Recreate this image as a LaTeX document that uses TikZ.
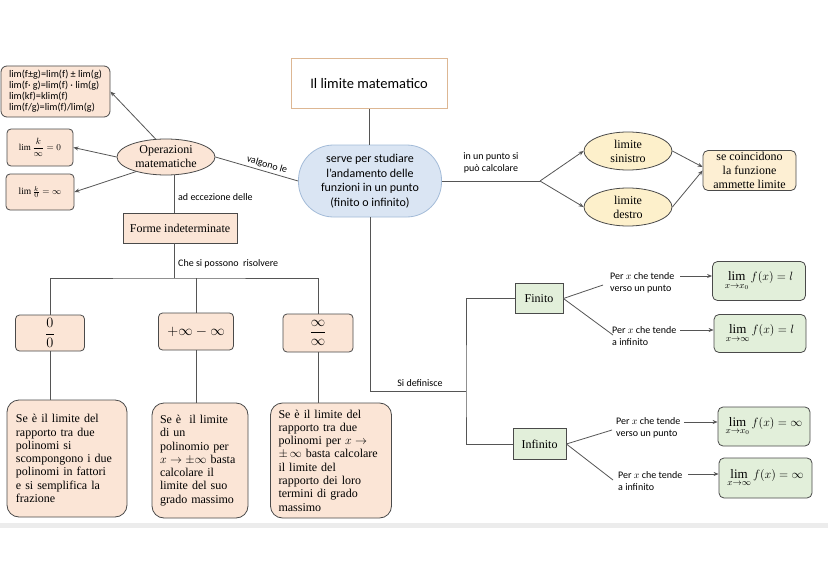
\documentclass[tikz,border=0pt]{standalone}
\usepackage{amsmath}
\usepackage{fontspec}
\setmainfont{Liberation Serif}
\newfontfamily\carl{Carlito}
\usetikzlibrary{shapes.geometric,arrows.meta,calc}
\definecolor{peach}{HTML}{FBE5D6}
\definecolor{bord}{HTML}{4A4A4A}
\definecolor{linec}{HTML}{555555}
\definecolor{tanb}{HTML}{DDB793}
\definecolor{bluef}{HTML}{DAE5F3}
\definecolor{blueb}{HTML}{A3BBD8}
\definecolor{yell}{HTML}{FDF0CB}
\definecolor{yellb}{HTML}{FDEFD3}
\definecolor{greenf}{HTML}{E2EFDA}
\begin{document}
\begin{tikzpicture}[x=1pt,y=-1pt,
  conn/.style={draw=linec, line width=0.8pt},
  arr/.style={conn, -{Stealth[length=5pt,width=4pt]}},
  pbox/.style={draw=bord, fill=peach, line width=0.8pt, rounded corners=4pt, inner sep=0pt, align=center},
  sqbox/.style={draw=bord, line width=0.8pt, inner sep=0pt, align=center, font=\fontsize{12}{14}\selectfont},
  gbox/.style={draw=bord, fill=greenf, line width=0.8pt, rounded corners=5pt, inner sep=0pt, font=\fontsize{13}{15}\selectfont},
  txbox/.style={draw=bord, fill=peach, line width=0.8pt, rounded corners=12pt, align=left, inner xsep=8pt, inner ysep=0pt, font=\fontsize{12}{13.3}\selectfont},
  yell/.style={ellipse, draw=bord, fill=yell, line width=0.8pt, inner sep=0pt, align=center, font=\fontsize{12}{14}\selectfont},
  lab/.style={font=\carl\fontsize{10}{12}\selectfont, align=left, inner sep=0pt}
]
\useasboundingbox[fill=white] (0,0) rectangle (828,586);
\fill[gray!15] (0,523) rectangle (828,528);

% title and central node
\node[draw=tanb, fill=white, line width=1pt, minimum width=156pt, minimum height=50pt, font=\carl\fontsize{14.5}{17}\selectfont] (title) at (369,84) {Il limite matematico};
\node[draw=blueb, fill=bluef, line width=0.8pt, rounded corners=35pt, minimum width=143pt, minimum height=72pt, inner sep=0pt, align=center, font=\carl\fontsize{12}{14.5}\selectfont] (blue) at (370,181) {serve per studiare\\l’andamento delle\\funzioni in un punto\\(finito o infinito)};
\draw[conn] (title.south) -- (title.south |- blue.north);

% left: operations
\node[ellipse, draw=bord, fill=peach, line width=0.8pt, minimum width=98pt, minimum height=36pt, inner sep=0pt, align=center, font=\fontsize{12}{14}\selectfont] (op) at (166,157) {Operazioni\\matematiche};
\node[pbox, rounded corners=6pt, minimum width=109pt, minimum height=51pt, align=left, font=\carl\fontsize{10.2}{11}\selectfont] (fbox) at (55.5,91.5) {lim(f±g)=lim(f) ± lim(g)\\lim(f· g)=lim(f) · lim(g)\\lim(kf)=klim(f)\\lim(f/g)=lim(f)/lim(g)};
\node[pbox, minimum width=66pt, minimum height=37pt, font=\fontsize{9}{10}\selectfont] (k1) at (40,147.5) {$\lim\dfrac{k}{\infty}=0$};
\node[pbox, minimum width=68pt, minimum height=36pt, font=\fontsize{9.5}{10}\selectfont] (k2) at (40,192) {$\lim\frac{k}{0}=\infty$};
\draw[arr] (op.120) -- (fbox.east);
\draw[arr] (op.west) -- (k1.east);
\draw[arr] (op.206) -- (k2.east);
\draw[conn] (op.east) -- node[lab, sloped, above=2pt, pos=0.6] (valg) {valgono le} (blue.west);

\node[sqbox, fill=peach, minimum width=114pt, minimum height=30pt] (forme) at (180,228) {Forme indeterminate};
\draw[conn] ([xshift=8pt]op.south) -- ([xshift=8pt]op.south |- forme.north);
\node[lab, anchor=west] (ecc) at (178,197) {ad eccezione delle};

\node[pbox, minimum width=69pt, minimum height=36pt, font=\fontsize{15}{16}\selectfont] (b1) at (50,333) {$\dfrac{0}{0}$};
\node[pbox, minimum width=75pt, minimum height=37pt, font=\fontsize{14}{16}\selectfont] (b2) at (196,331.5) {$+\infty-\infty$};
\node[pbox, minimum width=70pt, minimum height=38pt, font=\fontsize{14}{16}\selectfont] (b3) at (318,333) {$\dfrac{\infty}{\infty}$};
\coordinate (hb) at (174,278);
\draw[conn] ([xshift=-6pt]forme.south) -- (hb);
\draw[conn] (b1.north) |- (hb) -| (b3.north);
\draw[conn] (b2.north) -- (b2.north |- hb);
\node[lab, anchor=west] (ris) at (178,264) {Che si possono\ \ risolvere};

\node[txbox, minimum width=120pt, minimum height=117pt, text width=102pt] (t1) at (67,458.5) {Se è il limite del\\rapporto tra due\\polinomi si\\scompongono i due\\polinomi in fattori\\e si semplifica la\\frazione};
\node[txbox, minimum width=96pt, minimum height=115pt, text width=80pt] (t2) at (200,460.5) {Se è\ \ il limite\\di un\\polinomio per\\$x\to\pm\infty$ basta\\calcolare il\\limite del suo\\grado massimo};
\node[txbox, minimum width=121pt, minimum height=115pt, text width=105pt] (t3) at (331,460.5) {Se è il limite del\\rapporto tra due\\polinomi per $x\to$\\$\pm\,\infty$ basta calcolare\\il limite del\\rapporto dei loro\\termini di grado\\massimo};
\draw[conn] (b1.south) -- (b1.south |- t1.north);
\draw[conn] (b2.south) -- (b2.south |- t2.north);
\draw[conn] (b3.south) -- (b3.south |- t3.north);

% right top
\coordinate (split) at (540,181);
\draw[conn] (blue.east) -- node[lab, align=center, above=7pt] (calc) {in un punto si\\può calcolare} (split);
\node[yell, minimum width=88pt, minimum height=38pt] (ls) at (628,151) {limite\\sinistro};
\node[yell, minimum width=88pt, minimum height=38pt] (ld) at (628,207) {limite\\destro};
\node[draw=bord, fill=yellb, line width=0.8pt, rounded corners=5pt, minimum width=93pt, minimum height=40pt, inner sep=0pt, align=center, font=\fontsize{12}{14.3}\selectfont] (coin) at (749.5,170.5) {se coincidono\\la funzione\\ammette limite};
\draw[arr] (split) -- (ls.west);
\draw[arr] (split) -- (ld.west);
\draw[arr] (ls.east) -- ([yshift=3.5pt]coin.west);
\draw[arr] (ld.east) -- (coin.west);

% right bottom
\coordinate (j) at (466,391);
\node[sqbox, fill=greenf, minimum width=48pt, minimum height=30pt] (fin) at (539,298.5) {Finito};
\node[sqbox, fill=greenf, minimum width=53pt, minimum height=31pt] (inf) at (539.5,444) {Infinito};
\draw[conn] (blue.south) |- (j);
\draw[conn] (fin.west) -| (j) |- (inf.west);
\node[lab] (def) at (420,383) {Si definisce};

\coordinate (c1) at (603,285);
\coordinate (c2) at (613,335);
\coordinate (c3) at (612,430);
\coordinate (c4) at (613,480);
\draw[conn] (fin.east) -- (c1);
\draw[conn] (fin.east) -- (c2);
\draw[conn] (inf.east) -- (c3);
\draw[conn] (inf.east) -- (c4);
\node[lab, anchor=west] (f1) at (610,283) {Per $x$ che tende\\verso un punto};
\node[lab, anchor=west] (f2) at (612,336) {Per $x$ che tende\\a infinito};
\node[lab, anchor=west] (i1) at (616,428) {Per $x$ che tende\\verso un punto};
\node[lab, anchor=west] (i2) at (618,481) {Per $x$ che tende\\a infinito};

\node[gbox, minimum width=93pt, minimum height=39pt] (g1) at (759,281) {$\lim\limits_{x\to x_0} f(x)=l$};
\node[gbox, minimum width=92pt, minimum height=38pt] (g2) at (760,333.5) {$\lim\limits_{x\to\infty} f(x)=l$};
\node[gbox, minimum width=92pt, minimum height=39pt] (g3) at (764,426.5) {$\lim\limits_{x\to x_0} f(x)=\infty$};
\node[gbox, minimum width=93pt, minimum height=40pt] (g4) at (765.5,478) {$\lim\limits_{x\to\infty} f(x)=\infty$};

\coordinate (a1) at (680,276);
\coordinate (a2) at (680,330);
\coordinate (a3) at (684,422);
\coordinate (a4) at (688,474);
\draw[arr] (a1) -- (a1 -| g1.west);
\draw[arr] (a2) -- (a2 -| g2.west);
\draw[arr] (a3) -- (a3 -| g3.west);
\draw[arr] (a4) -- (a4 -| g4.west);
\end{tikzpicture}
\end{document}
